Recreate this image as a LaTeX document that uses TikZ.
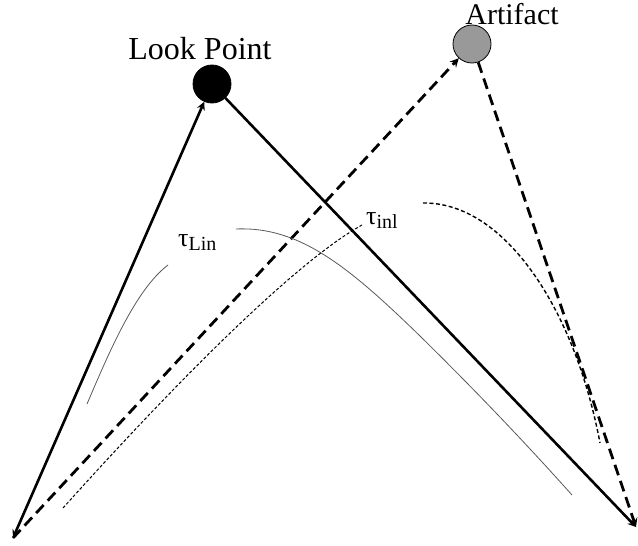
\documentclass[tikz,border=0pt]{standalone}
\usepackage{fontspec}
\setmainfont{Liberation Serif}
\newcommand{\tlabel}[1]{τ\raisebox{-0.35ex}{\fontsize{20}{22}\selectfont #1}}
\begin{document}
\begin{tikzpicture}[x=1pt, y=-1pt, >=stealth]
  \useasboundingbox (0,0) rectangle (638,546);
  \tikzset{
    pointnode/.style={circle, draw=black, line width=0.8pt, minimum size=38pt, inner sep=0pt},
    vecline/.style={line width=2.6pt},
    artline/.style={line width=2.8pt, dash pattern=on 11pt off 6pt},
    lincurve/.style={line width=0.8pt, draw=black!65},
    inlcurve/.style={line width=1pt, dash pattern=on 3pt off 2pt},
    inldash/.style={line width=1.4pt, dash pattern=on 4pt off 2.5pt},
    lbl/.style={font=\fontsize{32}{36}\selectfont, anchor=base}
  }

  \coordinate (O) at (13,538);
  \coordinate (R) at (636,527);
  \node[pointnode, fill=black] (look) at (212,84) {};
  \node[pointnode, fill=black!40] (art) at (472,44) {};

  \node[lbl] (looklbl) at (200,59) {Look Point};
  \node[lbl, font=\fontsize{30}{34}\selectfont] (artlbl) at (512,24) {Artifact};

  % vectors to the look point
  \draw[vecline, <->] (O) -- (look);
  \draw[vecline, ->] (look) -- (R);

  % vectors to the artifact
  \draw[artline, ->] (O) -- (art);
  \draw[artline, ->] (art) -- (R);

  % linear curves
  \draw[lincurve] (87,404) .. controls (108,355) and (135,290) .. (168,265);
  \draw[lincurve] (236,229) .. controls (300,226) and (350,268) .. (420,336)
    .. controls (480,395) and (530,448) .. (572,495);

  % inl curves
  \draw[inlcurve] (63,508) .. controls (160,400) and (290,265) .. (362,225);
  \draw[inldash] (423,203) .. controls (505,202) and (575,310) .. (600,443);

  \node[anchor=base west, font=\fontsize{26}{30}\selectfont, inner sep=0pt] (tlin) at (178,246) {\tlabel{Lin}};
  \node[anchor=base west, font=\fontsize{26}{30}\selectfont, inner sep=0pt] (tinl) at (366,224) {\tlabel{inl}};
\end{tikzpicture}
\end{document}
